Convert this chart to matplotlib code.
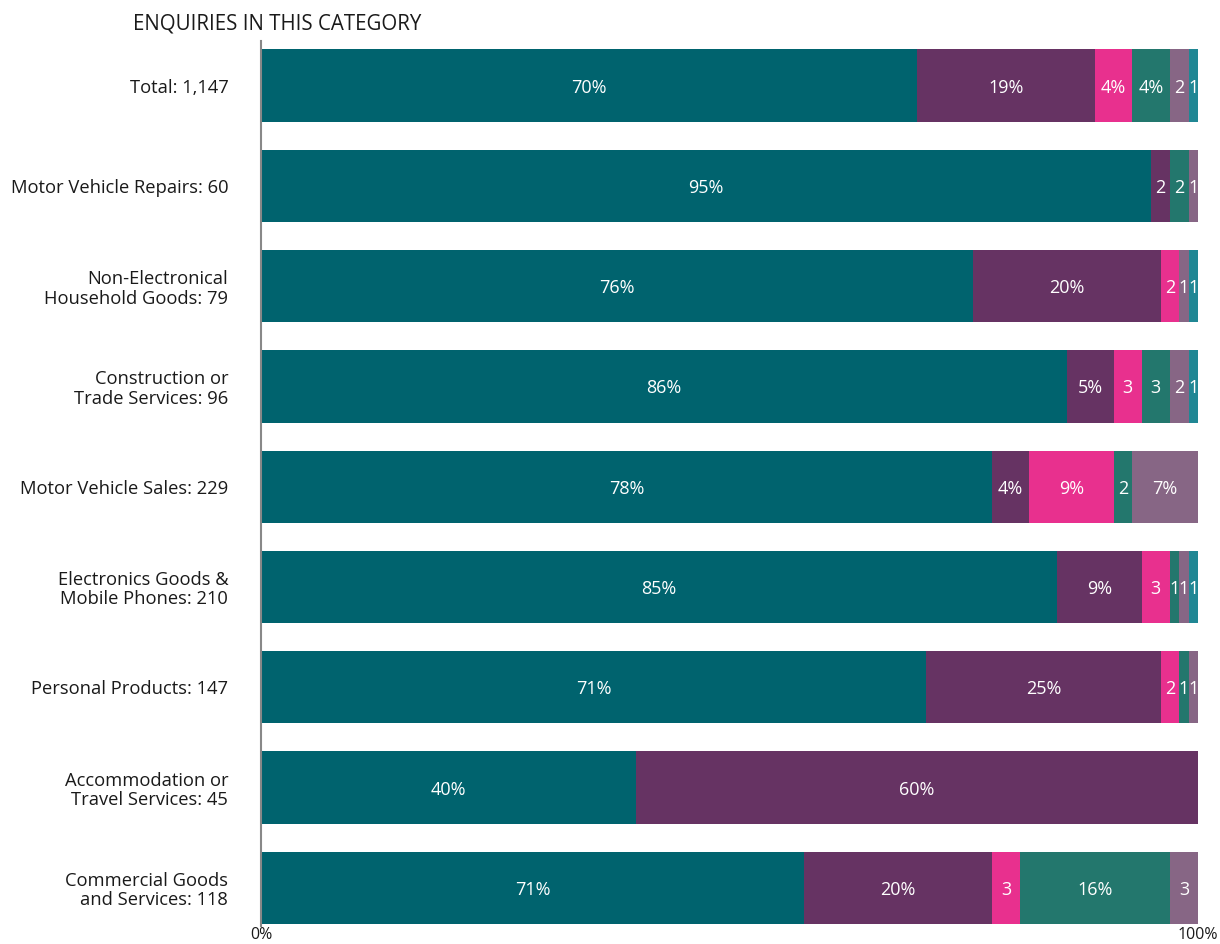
import numpy as np
import matplotlib
matplotlib.use("Agg")
import matplotlib.pyplot as plt

plt.rcParams['font.family'] = ['Open Sans', 'DejaVu Sans']

# ====== DATA ======
categories = [
    "Total: 1,147",
    "Motor Vehicle Repairs: 60",
    "Non-Electronical\nHousehold Goods: 79",
    "Construction or\nTrade Services: 96",
    "Motor Vehicle Sales: 229",
    "Electronics Goods &\nMobile Phones: 210",
    "Personal Products: 147",
    "Accommodation or\nTravel Services: 45",
    "Commercial Goods\nand Services: 118",
]

# share of enquiries per segment (percent), one list per colour band
seg_a = [70, 95, 76, 86, 78, 85, 71, 40, 58]
seg_b = [19, 2, 20, 5, 4, 9, 25, 60, 20]
seg_c = [4, 0, 2, 3, 9, 3, 2, 0, 3]
seg_d = [4, 2, 0, 3, 2, 1, 1, 0, 16]
seg_e = [2, 1, 1, 2, 7, 1, 1, 0, 3]
seg_f = [1, 0, 1, 1, 0, 1, 0, 0, 0]

segments = [seg_a, seg_b, seg_c, seg_d, seg_e, seg_f]
colors = ["#00636E", "#663363", "#E8308E", "#23776D", "#876685", "#208794"]

# the printed label on the last row differs from the drawn bar in the source
label_override = {(8, 0): "71%"}

# ====== FIGURE ======
fig = plt.figure(figsize=(12.2, 9.44), dpi=100)
ax = fig.add_axes([261 / 1220, 1 - 926 / 944, (1198 - 261) / 1220, (926 - 41) / 944])

y = np.arange(len(categories))
left = np.zeros(len(categories))
for k, (vals, col) in enumerate(zip(segments, colors)):
    vals = np.array(vals, dtype=float)
    ax.barh(y, vals, left=left, height=0.72, color=col, linewidth=0)
    for i, v in enumerate(vals):
        if v <= 0:
            continue
        txt = label_override.get((i, k), f"{int(v)}%" if v >= 4 else f"{int(v)}")
        ax.text(left[i] + v / 2, y[i] + 0.02, txt, ha="center", va="center",
                color="white", fontsize=13)
    left += vals

ax.set_xlim(0, 100)
ax.set_ylim(len(categories) - 1 + 0.38, -0.444)
ax.set_yticks(y)
ax.set_yticklabels(categories, fontsize=13.2, color="#1a1a1a", linespacing=1.1)
ax.set_xticks([0, 100])
ax.set_xticklabels(["0%", "100%"], fontsize=11.5, color="#1a1a1a")
ax.tick_params(axis="both", length=0)
ax.tick_params(axis="y", pad=23.5)
ax.tick_params(axis="x", pad=0.5)
for s in ["top", "right", "bottom"]:
    ax.spines[s].set_visible(False)
ax.spines["left"].set_color("#888888")
ax.spines["left"].set_linewidth(1.5)

fig.text(133 / 1220, 1 - 24 / 944, "ENQUIRIES IN THIS CATEGORY", fontsize=14.8,
         color="#1a1a1a", ha="left", va="center")

fig.savefig("out.png", dpi=100)
